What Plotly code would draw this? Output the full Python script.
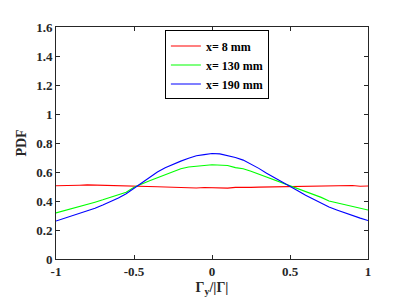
import plotly.graph_objects as go

x_vals = [-1.00, -0.95, -0.90, -0.85, -0.80, -0.75, -0.70, -0.65, -0.60, -0.55,
          -0.50, -0.45, -0.40, -0.35, -0.30, -0.25, -0.20, -0.15, -0.10, -0.05,
          0.00, 0.05, 0.10, 0.15, 0.20, 0.25, 0.30, 0.35, 0.40, 0.45,
          0.50, 0.55, 0.60, 0.65, 0.70, 0.75, 0.80, 0.85, 0.90, 0.95, 1.00]

pdf_8mm = [0.505, 0.508, 0.507, 0.509, 0.511, 0.509, 0.507, 0.508, 0.506, 0.505,
           0.504, 0.502, 0.500, 0.498, 0.497, 0.495, 0.494, 0.492, 0.490, 0.493,
           0.490, 0.491, 0.489, 0.494, 0.492, 0.494, 0.496, 0.497, 0.498, 0.500,
           0.500, 0.502, 0.503, 0.504, 0.503, 0.506, 0.504, 0.503, 0.507, 0.502, 0.503]

pdf_130mm = [0.318, 0.332, 0.345, 0.360, 0.375, 0.392, 0.408, 0.425, 0.442, 0.460,
             0.495, 0.520, 0.540, 0.560, 0.580, 0.600, 0.622, 0.635, 0.642, 0.645,
             0.650, 0.648, 0.645, 0.630, 0.622, 0.605, 0.585, 0.568, 0.548, 0.528,
             0.505, 0.485, 0.465, 0.445, 0.425, 0.400, 0.388, 0.375, 0.362, 0.348, 0.338]

pdf_190mm = [0.262, 0.280, 0.296, 0.312, 0.330, 0.350, 0.372, 0.395, 0.420, 0.450,
             0.488, 0.520, 0.558, 0.600, 0.630, 0.655, 0.675, 0.695, 0.712, 0.720,
             0.728, 0.725, 0.715, 0.700, 0.682, 0.655, 0.625, 0.592, 0.560, 0.530,
             0.500, 0.470, 0.440, 0.412, 0.382, 0.358, 0.338, 0.318, 0.300, 0.282, 0.265]

series_names = ["x= 8 mm", "x= 130 mm", "x= 190 mm"]
series_colors = ["#ff0000", "#00ff00", "#0000ff"]

x_ticks = [-1, -0.5, 0, 0.5, 1]
x_tick_labels = ["-1", "-0.5", "0", "0.5", "1"]
y_ticks = [0, 0.2, 0.4, 0.6, 0.8, 1.0, 1.2, 1.4, 1.6]
y_tick_labels = ["0", "0.2", "0.4", "0.6", "0.8", "1", "1.2", "1.4", "1.6"]

FONT = "Liberation Serif"

fig = go.Figure()
for name, ys, col in zip(series_names, [pdf_8mm, pdf_130mm, pdf_190mm], series_colors):
    fig.add_trace(go.Scatter(x=x_vals, y=ys, mode="lines", name="<b>%s</b>" % name,
                             line=dict(color=col, width=1.1)))

axis_common = dict(
    showline=True, linecolor="#262626", linewidth=1, mirror="allticks",
    ticks="inside", ticklen=4, tickcolor="#262626", tickwidth=1,
    showgrid=False, zeroline=False,
    tickfont=dict(family=FONT, size=13, color="#262626"),
)

fig.update_xaxes(range=[-1, 1], tickvals=x_ticks, ticktext=["<b>%s</b>" % t for t in x_tick_labels],
                 title=dict(text="<b>Γ<sub>y</sub>/|Γ|</b>", font=dict(family=FONT, size=14, color="#262626"),
                            standoff=4),
                 **axis_common)
fig.update_yaxes(range=[0, 1.6], tickvals=y_ticks, ticktext=["<b>%s</b>" % t for t in y_tick_labels],
                 title=dict(text="<b>PDF</b>", font=dict(family=FONT, size=14, color="#262626"),
                            standoff=6),
                 **axis_common)

# page body has an 8px margin, so the figure is drawn at (8, 8)
fig.update_layout(
    width=399, height=297,
    margin=dict(l=45, r=39, t=14, b=46),
    paper_bgcolor="white", plot_bgcolor="white",
    font=dict(family=FONT, color="#262626"),
    showlegend=True,
    legend=dict(x=0.349, y=0.985, xanchor="left", yanchor="top",
                bgcolor="white", bordercolor="black", borderwidth=1,
                font=dict(family=FONT, size=12, color="black"),
                tracegroupgap=0, itemwidth=30),
)

fig.write_html("out.html")
